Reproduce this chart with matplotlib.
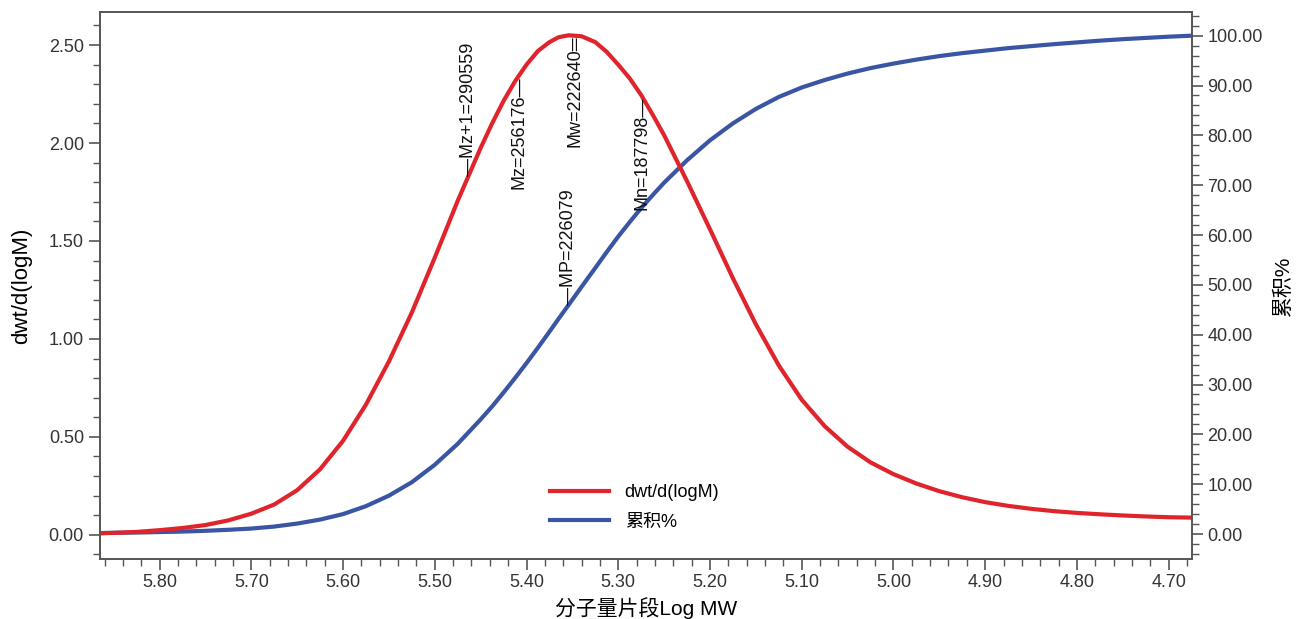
import numpy as np
import matplotlib
matplotlib.use("Agg")
import matplotlib.pyplot as plt
from matplotlib.ticker import MultipleLocator, FormatStrFormatter

plt.rcParams["font.family"] = ["Liberation Sans", "Noto Sans CJK SC", "DejaVu Sans"]

# ------------------------------------------------------------
# data
# ------------------------------------------------------------
log_mw = [5.865, 5.85, 5.825, 5.80, 5.775, 5.75, 5.725, 5.70, 5.675, 5.65,
          5.625, 5.60, 5.575, 5.55, 5.525, 5.50, 5.475, 5.45, 5.4375, 5.425,
          5.4125, 5.40, 5.3875, 5.375, 5.365, 5.354, 5.34, 5.325, 5.3125, 5.30,
          5.2875, 5.275, 5.2625, 5.25, 5.225, 5.20, 5.175, 5.15, 5.125, 5.10,
          5.075, 5.05, 5.025, 5.00, 4.975, 4.95, 4.925, 4.90, 4.875, 4.85,
          4.825, 4.80, 4.775, 4.75, 4.725, 4.70, 4.675]

dwt = [0.008, 0.010, 0.015, 0.024, 0.035, 0.050, 0.074, 0.108, 0.155, 0.228,
       0.335, 0.480, 0.665, 0.885, 1.135, 1.415, 1.705, 1.975, 2.100, 2.215,
       2.315, 2.400, 2.470, 2.515, 2.540, 2.550, 2.545, 2.515, 2.465, 2.400,
       2.330, 2.245, 2.145, 2.040, 1.805, 1.560, 1.310, 1.075, 0.865, 0.690,
       0.555, 0.450, 0.370, 0.310, 0.262, 0.223, 0.192, 0.167, 0.148, 0.133,
       0.121, 0.112, 0.105, 0.099, 0.094, 0.090, 0.088]

cum_pct = [0.20, 0.25, 0.30, 0.40, 0.50, 0.65, 0.85, 1.10, 1.50, 2.10,
           2.90, 4.00, 5.60, 7.70, 10.40, 13.90, 18.10, 23.00, 25.60, 28.40,
           31.30, 34.30, 37.40, 40.60, 43.20, 46.00, 49.60, 53.40, 56.60, 59.70,
           62.60, 65.40, 68.00, 70.50, 75.00, 79.00, 82.40, 85.30, 87.70, 89.60,
           91.10, 92.40, 93.50, 94.40, 95.20, 95.90, 96.50, 97.00, 97.50, 97.90,
           98.30, 98.65, 99.00, 99.30, 99.55, 99.80, 100.00]

mw_names = ["Mz+1", "Mz", "Mw", "Mn", "MP"]
mw_values = [290559, 256176, 222640, 187798, 226079]

RED = "#e0242c"
BLUE = "#3a55a4"
SPINE = "#555555"

fig = plt.figure(figsize=(12.98, 6.19), dpi=100)
ax = fig.add_axes([0.077, 0.097, 0.841, 0.884])
ax2 = ax.twinx()
ax.set_zorder(2)
ax.patch.set_visible(False)

red_line, = ax.plot(log_mw, dwt, color=RED, linewidth=3, label="dwt/d(logM)")
blue_line, = ax2.plot(log_mw, cum_pct, color=BLUE, linewidth=3, label="累积%")

ax.set_xlim(5.865, 4.675)
ax.set_ylim(-0.123, 2.67)
ax2.set_ylim(-5.0, 104.8)

ax.xaxis.set_major_locator(MultipleLocator(0.1))
ax.xaxis.set_minor_locator(MultipleLocator(0.02))
ax.yaxis.set_major_locator(MultipleLocator(0.5))
ax.yaxis.set_minor_locator(MultipleLocator(0.1))
ax2.yaxis.set_major_locator(MultipleLocator(10))
ax2.yaxis.set_minor_locator(MultipleLocator(2))
ax.xaxis.set_major_formatter(FormatStrFormatter("%.2f"))
ax.yaxis.set_major_formatter(FormatStrFormatter("%.2f"))
ax2.yaxis.set_major_formatter(FormatStrFormatter("%.2f"))

for a in (ax, ax2):
    for sp in a.spines.values():
        sp.set_color(SPINE)
        sp.set_linewidth(1.2)
    a.tick_params(which="major", direction="out", length=8, width=1.2,
                  color=SPINE, labelsize=13, labelcolor="#333333")
    a.tick_params(which="minor", direction="out", length=5, width=1.0, color=SPINE)
ax.tick_params(axis="x", which="both", top=False)
ax.tick_params(axis="x", pad=3)

ax.set_xlabel("分子量片段Log MW", fontsize=15, labelpad=4)
ax.set_ylabel("dwt/d(logM)", fontsize=16, labelpad=12)
ax2.set_ylabel("累积%", fontsize=15, rotation=90, labelpad=8)

# molecular weight markers along the curves
xs = np.array(log_mw)[::-1]
for name, value in zip(mw_names, mw_values):
    lx = np.log10(value)
    if name == "MP":
        pct = np.interp(lx, xs, np.array(cum_pct)[::-1])
        lo, hi = ax2.get_ylim()
        l0, l1 = ax.get_ylim()
        ly = l0 + (pct - lo) / (hi - lo) * (l1 - l0)
    else:
        ly = np.interp(lx, xs, np.array(dwt)[::-1])
    if name in ("Mz+1", "MP"):
        txt, ha = "\u2014" + name + "=" + str(value), "left"
    elif name == "Mw":
        txt, ha = name + "=" + str(value) + "\u2550", "right"
    else:
        txt, ha = name + "=" + str(value) + "\u2014", "right"
    ax.text(lx, ly, txt, rotation=90, rotation_mode="anchor", ha=ha, va="center",
            fontsize=13, color="#111111", zorder=5)

ax.legend(handles=[red_line, blue_line], loc="upper left",
          bbox_to_anchor=(0.412, 0.137), frameon=False, fontsize=13,
          borderpad=0, borderaxespad=0,
          handlelength=3.3, handletextpad=0.85, labelspacing=0.7)

fig.savefig("out.png", dpi=100)
